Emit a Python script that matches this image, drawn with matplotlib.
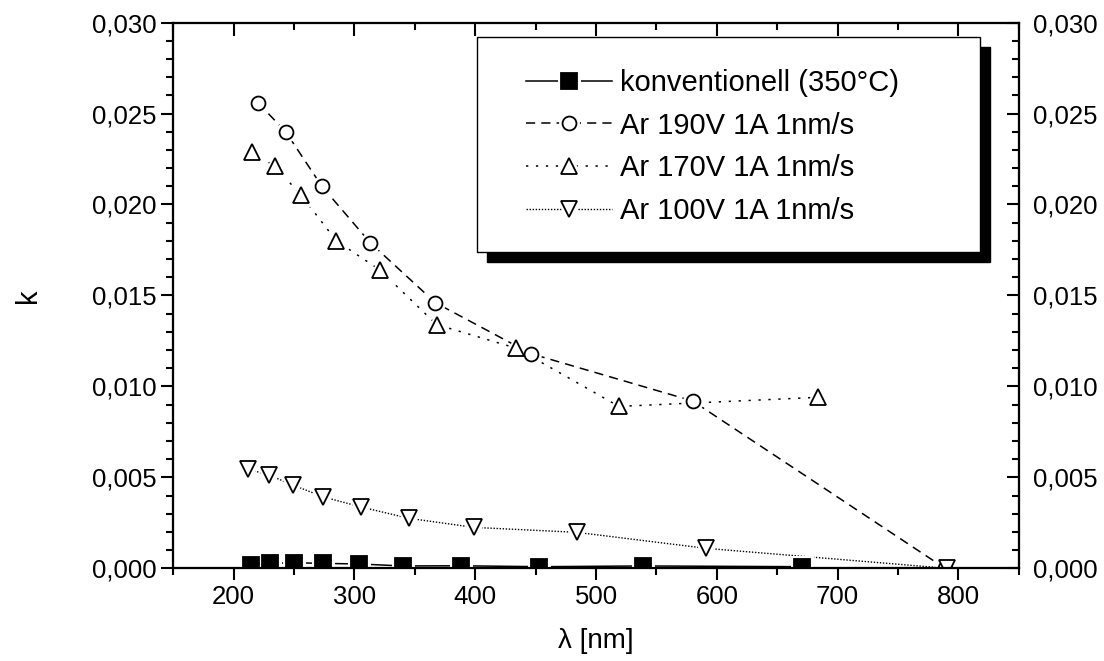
import matplotlib.pyplot as plt
from matplotlib.patches import Rectangle
from matplotlib.ticker import MultipleLocator, FuncFormatter
from matplotlib.legend_handler import HandlerTuple

plt.rcParams['font.family'] = ['Liberation Sans', 'DejaVu Sans']

# konventionell (350°C)
x_konv = [214, 230, 250, 274, 304, 340, 388, 453, 539, 671]
k_konv = [0.00018, 0.00027, 0.00031, 0.00027, 0.00024, 0.00013, 0.00014, 0.00009, 0.00013, 0.00009]

# Ar 190V 1A 1nm/s
x_190 = [220, 243, 273, 313, 367, 446, 580, 789]
k_190 = [0.0256, 0.0240, 0.0210, 0.0179, 0.0146, 0.0118, 0.0092, 0.0000]

# Ar 170V 1A 1nm/s
x_170 = [215, 234, 256, 285, 321, 368, 434, 519, 684]
k_170 = [0.0229, 0.0221, 0.0205, 0.0180, 0.0164, 0.0134, 0.0121, 0.0089, 0.0094]

# Ar 100V 1A 1nm/s
x_100 = [212, 229, 249, 274, 305, 345, 399, 484, 591, 791]
k_100 = [0.00545, 0.00513, 0.00458, 0.00393, 0.00338, 0.00275, 0.00225, 0.00198, 0.00110, 0.0000]

labels = ["konventionell (350°C)", "Ar 190V 1A 1nm/s", "Ar 170V 1A 1nm/s", "Ar 100V 1A 1nm/s"]

fig = plt.figure(figsize=(11.04, 6.61), dpi=100)
ax = fig.add_axes([0.157, 0.1402, 0.7657, 0.8257])

series = [
    (x_konv, k_konv, "-", 1.1, "s", 11, "black"),
    (x_190, k_190, (0, (6, 4)), 1.1, "o", 10, "white"),
    (x_170, k_170, (0, (1.5, 5)), 1.1, "^", 12, "white"),
    (x_100, k_100, (0, (1, 1.2)), 1.0, "v", 12, "white"),
]

# Linien zuerst, dann weisser Rand um die Symbole (Luecke wie in Origin), dann Symbole
handles = []
for xs, ks, ls, lw, m, ms, fc in series:
    line, = ax.plot(xs, ks, color="black", lw=lw, ls=ls, zorder=2)
    halo, = ax.plot(xs, ks, ls="none", marker=m, ms=ms, mfc="white", mec="white",
                    mew=5, zorder=3)
    mark, = ax.plot(xs, ks, ls="none", marker=m, ms=ms, mfc=fc, mec="black",
                    mew=1.3, zorder=4)
    handles.append((line, halo, mark))

ax.set_xlim(150, 850)
ax.set_ylim(0, 0.030)

comma = FuncFormatter(lambda v, p: f"{v:.3f}".replace(".", ","))

ax.xaxis.set_major_locator(MultipleLocator(100))
ax.xaxis.set_minor_locator(MultipleLocator(50))
ax.yaxis.set_major_locator(MultipleLocator(0.005))
ax.yaxis.set_minor_locator(MultipleLocator(0.001))
ax.yaxis.set_major_formatter(comma)
ax.tick_params(which="both", direction="out", width=1.5, labelsize=18.5)
ax.tick_params(which="major", length=8.5)
ax.tick_params(which="minor", length=5)
for s in ax.spines.values():
    s.set_linewidth(1.5)

# rechte und obere Achse mit Ticks nach innen
ax_r = ax.twinx()
ax_r.set_ylim(0, 0.030)
ax_r.yaxis.set_major_locator(MultipleLocator(0.005))
ax_r.yaxis.set_minor_locator(MultipleLocator(0.001))
ax_r.yaxis.set_major_formatter(comma)
ax_r.tick_params(which="both", direction="in", width=1.5, labelsize=18.5, pad=10)
ax_r.tick_params(which="major", length=9)
ax_r.tick_params(which="minor", length=5)
for s in ax_r.spines.values():
    s.set_linewidth(1.5)

ax_t = ax.twiny()
ax_t.set_xlim(150, 850)
ax_t.xaxis.set_major_locator(MultipleLocator(100))
ax_t.xaxis.set_minor_locator(MultipleLocator(50))
ax_t.tick_params(which="both", direction="in", width=1.5, labeltop=False)
ax_t.tick_params(which="major", length=9)
ax_t.tick_params(which="minor", length=5)
for s in ax_t.spines.values():
    s.set_linewidth(1.5)

ax.set_xlabel("λ [nm]", fontsize=20, labelpad=14)
ax.set_ylabel("k", fontsize=21, labelpad=36)

# Legende mit Rahmen und Schatten
bx, by, bw, bh = 0.359, 0.580, 0.595, 0.394
ax_r.add_patch(Rectangle((bx + 0.0118, by - 0.0195), bw, bh, transform=ax.transAxes,
                         facecolor="black", edgecolor="black", zorder=4))
ax_r.add_patch(Rectangle((bx, by), bw, bh, transform=ax.transAxes,
                         facecolor="white", edgecolor="black", lw=1.0, zorder=5))
leg = ax_r.legend(handles, labels, loc="center left", bbox_to_anchor=(0.4173, 0.772),
                  bbox_transform=ax.transAxes, frameon=False, fontsize=21,
                  handlelength=2.95, handletextpad=0.28, borderpad=0, borderaxespad=0,
                  labelspacing=0.5, numpoints=1,
                  handler_map={tuple: HandlerTuple(ndivide=1, pad=0)})
leg.set_zorder(6)

fig.savefig("out.png", dpi=100)
